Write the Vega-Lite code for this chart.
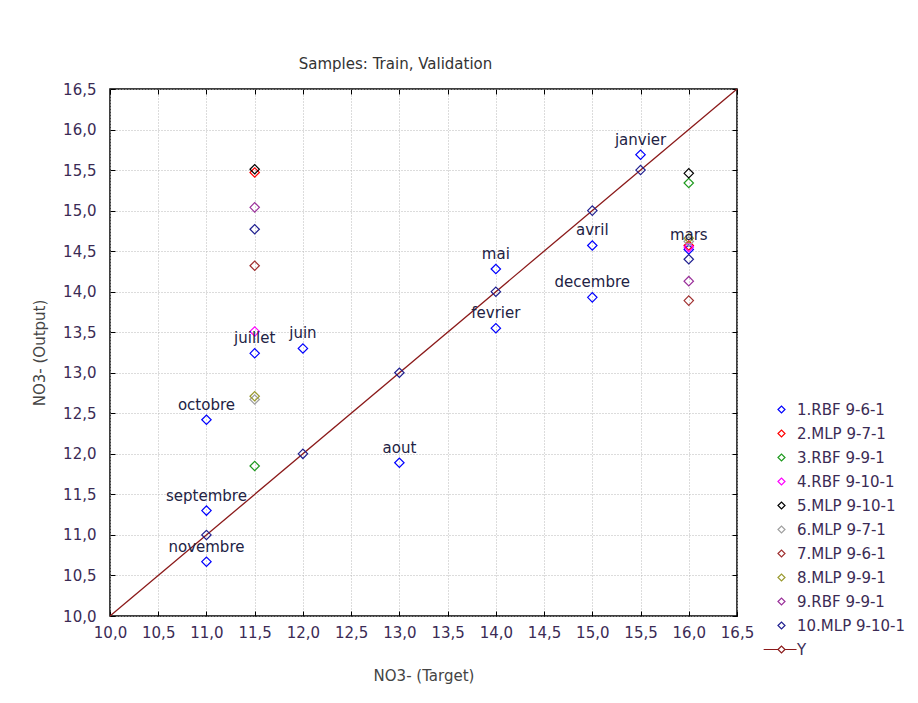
{
  "$schema": "https://vega.github.io/schema/vega-lite/v6.json",
  "autosize": "none",
  "width": 627,
  "height": 527,
  "padding": {"left": 110, "top": 89, "right": 181, "bottom": 87},
  "background": "white",
  "title": {"text": "Samples: Train, Validation", "fontSize": 15, "fontWeight": "normal", "font": "DejaVu Sans", "color": "#333333", "offset": 10, "dx": -28},
  "config": {
    "view": {"stroke": "black", "strokeWidth": 1.5},
    "font": "DejaVu Sans",
    "axis": {"labelFont": "DejaVu Sans", "titleFont": "DejaVu Sans"}
  },
  "datasets": {
    "pts": [
      {"series": "1.RBF 9-6-1", "x": 11, "y": 10.67, "month": "novembre"},
      {"series": "1.RBF 9-6-1", "x": 11, "y": 11.3, "month": "septembre"},
      {"series": "1.RBF 9-6-1", "x": 11, "y": 12.42, "month": "octobre"},
      {"series": "1.RBF 9-6-1", "x": 11.5, "y": 13.24, "month": "juillet"},
      {"series": "1.RBF 9-6-1", "x": 12, "y": 13.3, "month": "juin"},
      {"series": "1.RBF 9-6-1", "x": 13, "y": 11.89, "month": "aout"},
      {"series": "1.RBF 9-6-1", "x": 14, "y": 14.28, "month": "mai"},
      {"series": "1.RBF 9-6-1", "x": 14, "y": 13.55, "month": "fevrier"},
      {"series": "1.RBF 9-6-1", "x": 15, "y": 13.93, "month": "decembre"},
      {"series": "1.RBF 9-6-1", "x": 15, "y": 14.57, "month": "avril"},
      {"series": "1.RBF 9-6-1", "x": 15.5, "y": 15.69, "month": "janvier"},
      {"series": "1.RBF 9-6-1", "x": 16, "y": 14.52, "month": "mars"},
      {"series": "2.MLP 9-7-1", "x": 11.5, "y": 15.47},
      {"series": "2.MLP 9-7-1", "x": 16, "y": 14.57},
      {"series": "3.RBF 9-9-1", "x": 11.5, "y": 11.85},
      {"series": "3.RBF 9-9-1", "x": 16, "y": 15.34},
      {"series": "4.RBF 9-10-1", "x": 11.5, "y": 13.51},
      {"series": "4.RBF 9-10-1", "x": 16, "y": 14.55},
      {"series": "5.MLP 9-10-1", "x": 11.5, "y": 15.51},
      {"series": "5.MLP 9-10-1", "x": 16, "y": 15.46},
      {"series": "6.MLP 9-7-1", "x": 11.5, "y": 12.67},
      {"series": "6.MLP 9-7-1", "x": 16, "y": 14.62},
      {"series": "7.MLP 9-6-1", "x": 11.5, "y": 14.32},
      {"series": "7.MLP 9-6-1", "x": 16, "y": 13.89},
      {"series": "8.MLP 9-9-1", "x": 11.5, "y": 12.71},
      {"series": "8.MLP 9-9-1", "x": 16, "y": 14.66},
      {"series": "9.RBF 9-9-1", "x": 11.5, "y": 15.04},
      {"series": "9.RBF 9-9-1", "x": 16, "y": 14.13},
      {"series": "10.MLP 9-10-1", "x": 11.5, "y": 14.77},
      {"series": "10.MLP 9-10-1", "x": 16, "y": 14.4},
      {"series": "10.MLP 9-10-1", "x": 11, "y": 11},
      {"series": "10.MLP 9-10-1", "x": 12, "y": 12},
      {"series": "10.MLP 9-10-1", "x": 13, "y": 13},
      {"series": "10.MLP 9-10-1", "x": 14, "y": 14},
      {"series": "10.MLP 9-10-1", "x": 15, "y": 15},
      {"series": "10.MLP 9-10-1", "x": 15.5, "y": 15.5}
    ],
    "yline": [
      {"series": "Y", "x": 10, "y": 10},
      {"series": "Y", "x": 16.5, "y": 16.5}
    ]
  },
  "layer": [
    {
      "data": {"name": "yline"},
      "mark": {"type": "line", "color": "#8b1a1a", "strokeWidth": 1.3},
      "encoding": {
        "x": {"field": "x", "type": "quantitative",
          "scale": {"domain": [10, 16.5], "nice": false, "zero": false},
          "axis": {"title": "NO3- (Target)", "values": [10,10.5,11,11.5,12,12.5,13,13.5,14,14.5,15,15.5,16,16.5],
            "labelExpr": "replace(format(datum.value, '.1f'), '.', ',')",
            "labelFontSize": 15, "labelColor": "#3b2b55", "labelPadding": 14, "labelFlush": false, "labelOverlap": false,
            "tickSize": -5, "tickColor": "black", "domain": false,
            "grid": true, "gridColor": "#b8b8b8", "gridDash": [1, 2], "gridWidth": 1,
            "titleFontSize": 15, "titleFontWeight": "normal", "titleColor": "#444444", "titlePadding": 28}},
        "y": {"field": "y", "type": "quantitative",
          "scale": {"domain": [10, 16.5], "nice": false, "zero": false},
          "axis": {"title": "NO3- (Output)", "values": [10,10.5,11,11.5,12,12.5,13,13.5,14,14.5,15,15.5,16,16.5],
            "labelExpr": "replace(format(datum.value, '.1f'), '.', ',')",
            "labelFontSize": 15, "labelColor": "#3b2b55", "labelPadding": 19, "labelFlush": false, "labelOverlap": false,
            "tickSize": -5, "tickColor": "black", "domain": false,
            "grid": true, "gridColor": "#b8b8b8", "gridDash": [1, 2], "gridWidth": 1,
            "titleFontSize": 15, "titleFontWeight": "normal", "titleColor": "#444444", "titlePadding": 15}}
      }
    },
    {
      "data": {"name": "pts"},
      "mark": {"type": "point", "filled": false, "size": 88, "strokeWidth": 1.2, "opacity": 1},
      "encoding": {
        "x": {"field": "x", "type": "quantitative",
          "axis": {"orient": "top", "title": null, "labels": false, "grid": false, "domain": false, "tickSize": -5, "tickColor": "black",
            "values": [10,10.5,11,11.5,12,12.5,13,13.5,14,14.5,15,15.5,16,16.5]}},
        "y": {"field": "y", "type": "quantitative",
          "axis": {"orient": "right", "title": null, "labels": false, "grid": false, "domain": false, "tickSize": -5, "tickColor": "black",
            "values": [10,10.5,11,11.5,12,12.5,13,13.5,14,14.5,15,15.5,16,16.5]}},
        "color": {"field": "series", "type": "nominal",
          "scale": {
            "domain": ["1.RBF 9-6-1","2.MLP 9-7-1","3.RBF 9-9-1","4.RBF 9-10-1","5.MLP 9-10-1","6.MLP 9-7-1","7.MLP 9-6-1","8.MLP 9-9-1","9.RBF 9-9-1","10.MLP 9-10-1","Y"],
            "range": ["#0000ff","#ff0000","#1f9a1f","#ff00ff","#000000","#a0a0a0","#a03030","#9a9a30","#9a309a","#202090","#8b1a1a"]},
          "legend": {"title": null, "orient": "none", "legendX": 664, "legendY": 313,
            "labelFontSize": 15, "labelColor": "#3b2b55", "labelFont": "DejaVu Sans",
            "symbolSize": 49, "symbolStrokeWidth": 1.2, "rowPadding": 8, "labelOffset": 8, "padding": 0, "labelLimit": 200}},
        "shape": {"field": "series", "type": "nominal",
          "scale": {
            "domain": ["1.RBF 9-6-1","2.MLP 9-7-1","3.RBF 9-9-1","4.RBF 9-10-1","5.MLP 9-10-1","6.MLP 9-7-1","7.MLP 9-6-1","8.MLP 9-9-1","9.RBF 9-9-1","10.MLP 9-10-1","Y"],
            "range": ["diamond","diamond","diamond","diamond","diamond","diamond","diamond","diamond","diamond","diamond","M-5.1,0L-1,0M1,0L4.3,0M-1,0L0,-1L1,0L0,1Z"]}}
      }
    },
    {
      "data": {"name": "pts"},
      "transform": [{"filter": "datum.month != null"}],
      "mark": {"type": "text", "dy": -15, "fontSize": 15, "font": "DejaVu Sans", "color": "#222244"},
      "encoding": {
        "x": {"field": "x", "type": "quantitative", "axis": null},
        "y": {"field": "y", "type": "quantitative", "axis": null},
        "text": {"field": "month"}
      }
    }
  ],
  "resolve": {"axis": {"x": "independent", "y": "independent"}}
}
